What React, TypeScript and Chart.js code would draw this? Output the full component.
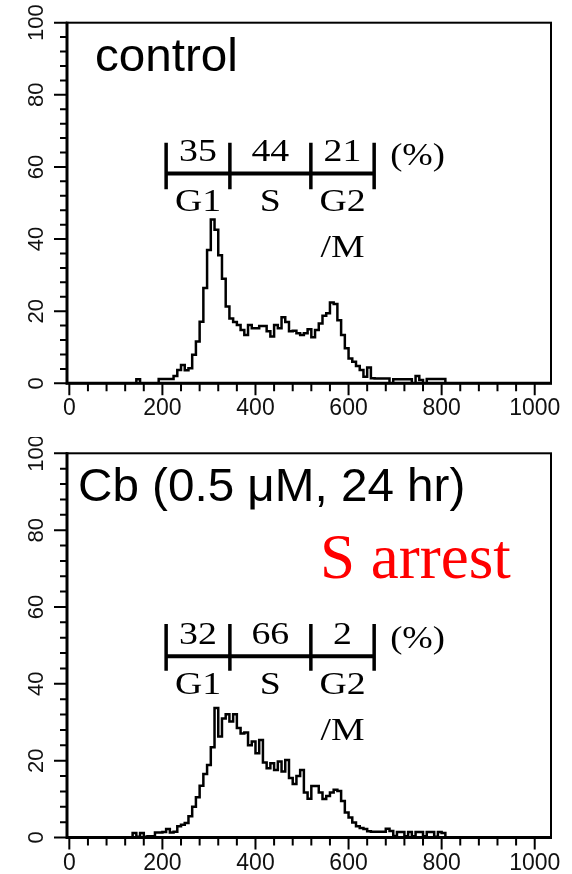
import React, { useEffect, useRef } from 'react';
import { Chart, registerables } from 'chart.js';

Chart.register(...registerables);

// ---- Data ----
// DNA-content channel (left edge of each histogram bin)
const binEdges = [
  128, 136, 144, 152, 160, 168, 176, 184, 192, 200,
  208, 216, 224, 232, 240, 248, 256, 264, 272, 280,
  288, 296, 304, 312, 320, 328, 336, 344, 352, 360,
  368, 376, 384, 392, 400, 408, 416, 424, 432, 440,
  448, 456, 464, 472, 480, 488, 496, 504, 512, 520,
  528, 536, 544, 552, 560, 568, 576, 584, 592, 600,
  608, 616, 624, 632, 640, 648, 656, 664, 672, 680,
  688, 696, 704, 712, 720, 728, 736, 744, 752, 760,
  768, 776, 784, 792, 800, 808, 816,
];

const controlCounts = [
  0, 0, 1.1, 0, 0, 0, 0, 0, 1.2, 1.2,
  1.2, 1.2, 2.0, 3.7, 5.1, 3.6, 4.2, 7.9, 11.6, 17.1,
  26.4, 37.0, 45.4, 42.6, 35.5, 29.0, 21.3, 18.0, 17.0, 16.2,
  14.8, 13.4, 16.2, 15.3, 15.3, 15.9, 15.9, 14.4, 13.0, 16.2,
  15.3, 18.3, 17.0, 14.4, 14.6, 13.9, 13.4, 13.9, 15.0, 12.8,
  14.8, 16.6, 18.7, 19.4, 22.4, 22.0, 17.5, 13.4, 9.7, 6.9,
  6.0, 4.8, 3.7, 1.8, 4.4, 1.4, 1.3, 1.3, 1.3, 1.3,
  0, 1.1, 1.1, 1.1, 1.1, 1.1, 0, 2.0, 0.9, 0,
  1.2, 1.2, 1.2, 1.2, 1.2, 0, 0,
];

const cbCounts = [
  0, 1.2, 0.2, 1.2, 0.2, 0.3, 0.3, 1.3, 1.3, 1.4,
  2.2, 1.3, 1.5, 2.9, 3.3, 3.8, 5.5, 8.0, 10.5, 13.5,
  16.5, 18.9, 23.5, 33.7, 26.3, 31.0, 32.1, 30.2, 32.1, 28.5,
  27.1, 27.3, 24.0, 25.0, 21.9, 25.4, 19.5, 18.0, 19.3, 17.6,
  19.8, 17.2, 20.2, 15.5, 13.9, 16.0, 17.6, 11.7, 10.1, 13.4,
  13.4, 11.7, 10.0, 10.8, 11.7, 12.4, 12.1, 9.5, 6.5, 5.2,
  3.9, 2.9, 2.5, 2.2, 1.6, 1.5, 1.5, 1.5, 1.5, 2.3,
  1.7, 0.4, 1.4, 1.4, 0.3, 1.4, 0.3, 1.4, 1.4, 0.3,
  1.4, 1.4, 0.2, 1.4, 1.2, 0, 0,
];

// axis ticks
const xTickLabels = ['0', '200', '400', '600', '800', '1000'];
const yTickLabels = ['0', '20', '40', '60', '80', '100'];
const xMinorStep = 40;
const yMinorStep = 4;

// cell-cycle phase gates (channel) and percentages
const phaseBounds = [208, 345, 519, 655];
const phaseNames = ['G1', 'S', 'G2'];
const controlPercents = ['35', '44', '21'];
const cbPercents = ['32', '66', '2'];

const X_MIN = -5;
const X_MAX = 1035;
const AREA_LEFT = 67;
const AREA_RIGHT = 551;
const W = 572;

const xMajor = xTickLabels.map(Number);
const yMajor = yTickLabels.map(Number);
const xTickValues: number[] = [];
for (let v = 0; v <= xMajor[xMajor.length - 1]; v += xMinorStep) xTickValues.push(v);
const yTickValues: number[] = [];
for (let v = 0; v <= yMajor[yMajor.length - 1]; v += yMinorStep) yTickValues.push(v);

const SANS = '"Liberation Sans", Arial, sans-serif';
const SERIF = '"Liberation Serif", "Times New Roman", serif';

function stretchText(ctx: CanvasRenderingContext2D, text: string, x: number, y: number, sx: number, align: CanvasTextAlign) {
  ctx.save();
  ctx.translate(x, y);
  ctx.scale(sx, 1);
  ctx.textAlign = align;
  ctx.textBaseline = 'alphabetic';
  ctx.fillText(text, 0, 0);
  ctx.restore();
}

const decorPlugin = {
  id: 'decor',
  afterDraw(chart: any, _args: any, opts: any) {
    const { ctx, chartArea: a, scales } = chart;
    const xs = scales.x;
    const ys = scales.y;
    ctx.save();
    ctx.strokeStyle = '#000';
    ctx.fillStyle = '#000';
    ctx.lineCap = 'butt';

    // frame
    ctx.lineWidth = 2;
    ctx.strokeRect(a.left, a.top, a.right - a.left, a.bottom - a.top);
    ctx.lineWidth = 3;
    ctx.beginPath();
    ctx.moveTo(a.left, a.top - 1);
    ctx.lineTo(a.left, a.bottom);
    ctx.lineTo(a.right + 1, a.bottom);
    ctx.stroke();

    // ticks
    ctx.lineWidth = 2;
    ctx.beginPath();
    for (const t of ys.ticks) {
      const py = ys.getPixelForValue(t.value);
      const len = yMajor.includes(t.value) ? 13 : 7;
      ctx.moveTo(a.left - len, py);
      ctx.lineTo(a.left, py);
    }
    for (const t of xs.ticks) {
      const px = xs.getPixelForValue(t.value);
      const len = xMajor.includes(t.value) ? 12 : 8;
      ctx.moveTo(px, a.bottom);
      ctx.lineTo(px, a.bottom + len);
    }
    ctx.stroke();

    // title
    ctx.font = `46px ${SANS}`;
    stretchText(ctx, opts.title, opts.titleX, opts.titleY, 1.035, 'left');

    if (opts.note) {
      ctx.fillStyle = '#ff0000';
      ctx.font = `63px ${SERIF}`;
      ctx.textAlign = 'left';
      ctx.textBaseline = 'alphabetic';
      ctx.fillText(opts.note, opts.noteX, opts.noteY);
      ctx.fillStyle = '#000';
    }

    // phase bracket
    const bx = phaseBounds.map((b) => xs.getPixelForValue(b));
    const yl = ys.getPixelForValue(opts.bracketLine);
    const yt = ys.getPixelForValue(opts.bracketTop);
    const yb = ys.getPixelForValue(opts.bracketBottom);
    ctx.lineWidth = 4;
    ctx.beginPath();
    ctx.moveTo(bx[0], yl);
    ctx.lineTo(bx[bx.length - 1], yl);
    ctx.stroke();
    ctx.lineWidth = 3.5;
    ctx.beginPath();
    for (const px of bx) {
      ctx.moveTo(px, yt);
      ctx.lineTo(px, yb);
    }
    ctx.stroke();

    ctx.font = `31px ${SERIF}`;
    const sx = 1.22;
    for (let i = 0; i < 3; i++) {
      const cx = (bx[i] + bx[i + 1]) / 2;
      stretchText(ctx, opts.percents[i], cx, yl - 12.6, sx, 'center');
      stretchText(ctx, phaseNames[i], cx, yl + 38, sx, 'center');
    }
    stretchText(ctx, '/M', (bx[2] + bx[3]) / 2, yl + 84, sx, 'center');
    stretchText(ctx, '(%)', bx[3] + 16, yl - 8, 1.18, 'left');

    ctx.restore();
  },
};

type PanelProps = {
  top: number;
  height: number;
  counts: number[];
  areaTop: number;
  areaBottom: number;
  decor: any;
};

function Panel({ top, height, counts, areaTop, areaBottom, decor }: PanelProps) {
  const ref = useRef<HTMLCanvasElement>(null);
  useEffect(() => {
    const canvas = ref.current;
    if (!canvas) return;
    const chart = new Chart(canvas, {
      type: 'line',
      data: {
        datasets: [
          {
            data: binEdges.map((e, i) => ({ x: e, y: counts[i] })),
            borderColor: '#000',
            borderWidth: 2.5,
            pointRadius: 0,
            stepped: true,
            fill: false,
            tension: 0,
          },
        ],
      },
      options: {
        responsive: false,
        animation: false,
        devicePixelRatio: 1,
        layout: { padding: { top: areaTop, right: W - AREA_RIGHT, left: 0, bottom: 0 } },
        plugins: {
          legend: { display: false },
          tooltip: { enabled: false },
          decor,
        } as any,
        scales: {
          x: {
            type: 'linear',
            min: X_MIN,
            max: X_MAX,
            grid: { display: false, drawTicks: false },
            border: { display: false },
            afterBuildTicks: (s: any) => {
              s.ticks = xTickValues.map((v) => ({ value: v }));
            },
            afterFit: (s: any) => {
              s.height = height - areaBottom;
              s.paddingLeft = 0;
              s.paddingRight = 0;
            },
            ticks: {
              autoSkip: false,
              maxRotation: 0,
              minRotation: 0,
              padding: 12,
              color: '#111',
              font: { family: SANS, size: 23 },
              callback: (v: any) => (xMajor.includes(Number(v)) ? String(v) : ''),
            },
          },
          y: {
            type: 'linear',
            min: 0,
            max: 100,
            grid: { display: false, drawTicks: false },
            border: { display: false },
            afterBuildTicks: (s: any) => {
              s.ticks = yTickValues.map((v) => ({ value: v }));
            },
            afterFit: (s: any) => {
              s.width = AREA_LEFT;
              s.paddingTop = 0;
              s.paddingBottom = 0;
            },
            ticks: {
              autoSkip: false,
              minRotation: 90,
              maxRotation: 90,
              crossAlign: 'center',
              padding: 12,
              color: '#111',
              font: { family: SANS, size: 22 },
              callback: (v: any) => (yMajor.includes(Number(v)) ? String(v) : ''),
            },
          },
        },
      } as any,
      plugins: [decorPlugin as any],
    });
    return () => chart.destroy();
  }, []);
  return (
    <canvas
      ref={ref}
      width={W}
      height={height}
      style={{ position: 'absolute', left: 0, top, width: W, height }}
    />
  );
}

export default function App() {
  return (
    <div style={{ position: 'fixed', left: 0, top: 0, width: W, height: 874, background: '#fff' }}>
      <Panel
        top={0}
        height={437}
        counts={controlCounts}
        areaTop={22.7}
        areaBottom={383.3}
        decor={{
          title: 'control',
          titleX: 95,
          titleY: 70.7,
          percents: controlPercents,
          bracketLine: 58.2,
          bracketTop: 66.7,
          bracketBottom: 53.8,
        }}
      />
      <Panel
        top={437}
        height={437}
        counts={cbCounts}
        areaTop={16.3}
        areaBottom={400.5}
        decor={{
          title: 'Cb (0.5 μM, 24 hr)',
          titleX: 78,
          titleY: 63.7,
          note: 'S arrest',
          noteX: 320,
          noteY: 141,
          percents: cbPercents,
          bracketLine: 47.2,
          bracketTop: 55.6,
          bracketBottom: 43.4,
        }}
      />
    </div>
  );
}
